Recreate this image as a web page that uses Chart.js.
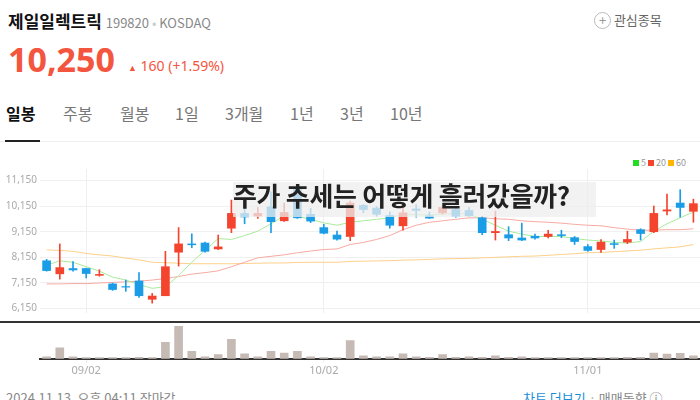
<!DOCTYPE html>
<html><head><meta charset="utf-8">
<script src="https://cdn.jsdelivr.net/npm/chart.js@4.4.0/dist/chart.umd.min.js"></script>
<style>
body{margin:0;width:700px;height:400px;overflow:hidden;background:#fff;font-family:"Noto Sans CJK KR","Noto Sans",sans-serif;position:relative}
.a{position:absolute;white-space:nowrap}
.t{position:absolute;top:101px;font-size:16px;color:#777}
</style></head><body>
<div class="a" style="left:8px;top:8px;font-size:17px;font-weight:bold;color:#111">제일일렉트릭 <span style="font-size:13px;font-weight:normal;color:#888">199820 <span style="color:#ccc">•</span> KOSDAQ</span></div>
<div class="a" style="left:594px;top:10px;font-size:13px;color:#666"><span style="display:inline-block;width:15px;height:15px;border:1px solid #bbb;border-radius:50%;text-align:center;line-height:14px;color:#999">+</span> 관심종목</div>
<div class="a" style="left:8px;top:36px;font-size:34px;font-weight:bold;color:#f4553e;font-family:'Noto Sans',sans-serif">10,250</div>
<div class="a" style="left:128px;top:56px;font-size:14px;color:#f4553e;font-family:'Noto Sans',sans-serif"><span style="font-size:9px">▲</span> 160 (+1.59%)</div>
<div class="t" style="left:6px;color:#111;font-weight:bold">일봉</div>
<div class="t" style="left:63px">주봉</div>
<div class="t" style="left:120px">월봉</div>
<div class="t" style="left:175px">1일</div>
<div class="t" style="left:225px">3개월</div>
<div class="t" style="left:290px">1년</div>
<div class="t" style="left:340px">3년</div>
<div class="t" style="left:390px">10년</div>
<div class="a" style="left:0;top:141px;width:700px;height:1px;background:#eee"></div>
<div class="a" style="left:5px;top:140px;width:35px;height:2px;background:#222"></div>
<div class="a" style="left:633px;top:156px;font-size:9px;color:#999"><span style="display:inline-block;width:6px;height:6px;background:#22dd22"></span> 5 <span style="display:inline-block;width:6px;height:6px;background:#f4442e"></span> 20 <span style="display:inline-block;width:6px;height:6px;background:#ffb400"></span> 60</div>
<div class="a" style="left:0;top:160px;width:700px;height:162px"><canvas id="price"></canvas></div>
<div class="a" style="left:0;top:321px;width:700px;height:2px;background:#333"></div>
<div class="a" style="left:0;top:323px;width:700px;height:55px"><canvas id="vol"></canvas></div>
<div class="a" style="left:233px;top:182px;width:363px;height:35px;background:rgba(238,238,238,.75)"></div>
<div class="a" style="left:233px;top:176px;font-size:26px;font-weight:bold;color:#222;letter-spacing:-0.3px">주가 추세는 어떻게 흘러갔을까?</div>
<div class="a" style="left:6px;top:388px;font-size:13px;color:#888">2024.11.13. 오후 04:11 장마감</div>
<div class="a" style="left:523px;top:388px;font-size:13px;color:#1a8fd6">차트 더보기 <span style="color:#aaa">·</span> <span style="color:#888">매매동향 ⓘ</span></div>
<script>
var labels = [];
for (var i = 0; i < 50; i++) labels.push("");
labels[3] = "09/02"; labels[21] = "10/02"; labels[41] = "11/01";

var openP  = [8015,7506,7714,7714,7448,7113,7009,7228,6511,6650,8351,8675,8709,8478,9288,9866,9762,10121,9577,10803,9832,9311,9022,8964,10179,10075,9785,9381,10040,9774,9889,10017,9982,9693,9114,9033,8906,8975,8964,9033,8918,8570,8455,8686,8744,9230,9149,9959,10271,9947];
var closeP = [7632,7749,7657,7518,7483,6893,6986,6650,6638,7784,8675,8640,8385,8559,9866,9728,9866,9542,9901,9693,9565,9091,8860,10271,10017,9832,9404,9889,9982,9681,10098,9751,9774,9114,9161,8906,8825,8906,9057,8999,8767,8420,8744,8651,8848,9080,9866,10005,10098,10248];
var highP  = [8072,8675,7980,7726,7668,7147,7263,7553,6742,8385,9311,9068,8744,9022,10387,10098,10098,10711,10271,10966,10063,9438,9172,10350,10213,10133,9924,10098,10213,9924,10156,10075,10098,9751,9959,9346,9485,9057,9207,9207,8964,8651,8848,8825,9172,9265,10156,10618,10792,10422];
var lowP   = [7610,7298,7610,7344,7413,6858,6823,6580,6360,6650,7807,8524,8351,8455,9114,9461,9670,9114,9554,9670,9508,9068,8825,8802,9889,9751,9288,9207,9716,9670,9843,9716,9751,9033,8825,8802,8802,8860,8906,8918,8651,8385,8339,8501,8686,8825,9114,9809,9716,9519];
var ma5  = [7841,8015,7957,7784,7610,7379,7263,7090,6940,6998,7437,7957,8420,8883,8848,9000,9172,9461,9774,9751,9635,9496,9404,9520,9577,9635,9693,9832,9809,9809,9832,9866,9832,9635,9404,9172,9057,8964,8964,8964,8883,8825,8790,8732,8709,8767,9172,9461,9693,9924];
var ma20 = [7113,7113,7125,7125,7148,7171,7194,7217,7263,7321,7402,7495,7553,7622,7784,7957,8131,8189,8247,8328,8397,8455,8478,8651,8732,8848,8999,9230,9404,9519,9577,9635,9693,9693,9658,9635,9577,9543,9519,9485,9438,9404,9381,9311,9253,9207,9207,9230,9230,9265];
var ma60 = [8443,8420,8385,8300,8247,8200,8120,8050,7957,7940,7920,7900,7900,7900,7900,7910,7920,7930,7930,7950,7957,7957,7957,7990,8000,8010,8020,8040,8050,8070,8090,8100,8110,8130,8150,8170,8190,8200,8230,8260,8290,8330,8340,8370,8400,8430,8480,8520,8560,8650];
var volume = [7,37,7,4,4,4,4,5,4,55,109,25,7,14,65,17,7,25,19,25,7,4,4,61,10,7,7,17,7,5,14,5,7,5,10,5,7,4,4,4,4,4,4,4,5,5,19,16,18,10];
var priceTicks = [6150,7150,8150,9150,10150,11150];

var UP = "#f4442e", DOWN = "#1a9de6";
var colors = openP.map(function (o, i) { return closeP[i] >= o ? UP : DOWN; });
var bodies = openP.map(function (o, i) { return [o, closeP[i]]; });
var wicks = highP.map(function (h, i) { return [lowP[i], h]; });

var gridX = function (ctx) { return labels[ctx.index] ? "#efefef" : "rgba(0,0,0,0)"; };

new Chart(document.getElementById("price"), {
  type: "bar",
  data: {
    labels: labels,
    datasets: [
      {type: "line", data: ma60, borderColor: "#fdd08a", borderWidth: 1, pointRadius: 0, order: 5},
      {type: "line", data: ma20, borderColor: "#f7aaa2", borderWidth: 1, pointRadius: 0, order: 4},
      {type: "line", data: ma5, borderColor: "#a8eb9a", borderWidth: 1, pointRadius: 0, order: 3},
      {data: wicks, backgroundColor: colors, barThickness: 1, grouped: false, order: 2},
      {data: bodies, backgroundColor: colors, barThickness: 8, grouped: false, order: 1}
    ]
  },
  options: {
    responsive: true, maintainAspectRatio: false, animation: false,
    layout: {padding: 0},
    plugins: {legend: {display: false}, tooltip: {enabled: false}},
    scales: {
      x: {offset: true, ticks: {display: false}, border: {display: false},
          grid: {offset: false, color: gridX, drawTicks: false}},
      y: {min: 5976, max: 11600, border: {display: false},
          afterFit: function (s) { s.width = 40; },
          afterBuildTicks: function (s) { s.ticks = priceTicks.map(function (v) { return {value: v}; }); },
          grid: {color: "#f0f0f0", drawTicks: false},
          ticks: {color: "#aaa", font: {size: 10, family: "Noto Sans"}, padding: 3,
                  callback: function (v) { return v.toLocaleString("en-US"); }}}
    }
  }
});

new Chart(document.getElementById("vol"), {
  type: "bar",
  data: {labels: labels, datasets: [{data: volume, backgroundColor: "#c6bab5", barThickness: 8}]},
  options: {
    responsive: true, maintainAspectRatio: false, animation: false,
    layout: {padding: {left: 40, top: 0}},
    plugins: {legend: {display: false}, tooltip: {enabled: false}},
    scales: {
      x: {offset: true, border: {color: "#333", width: 2},
          grid: {offset: false, drawOnChartArea: false, tickLength: 4, color: gridX},
          ticks: {autoSkip: false, maxRotation: 0, color: "#aaa", font: {size: 11, family: "Noto Sans"}, padding: 1}},
      y: {display: false, min: 0, max: 120}
    }
  }
});
</script>
</body></html>
